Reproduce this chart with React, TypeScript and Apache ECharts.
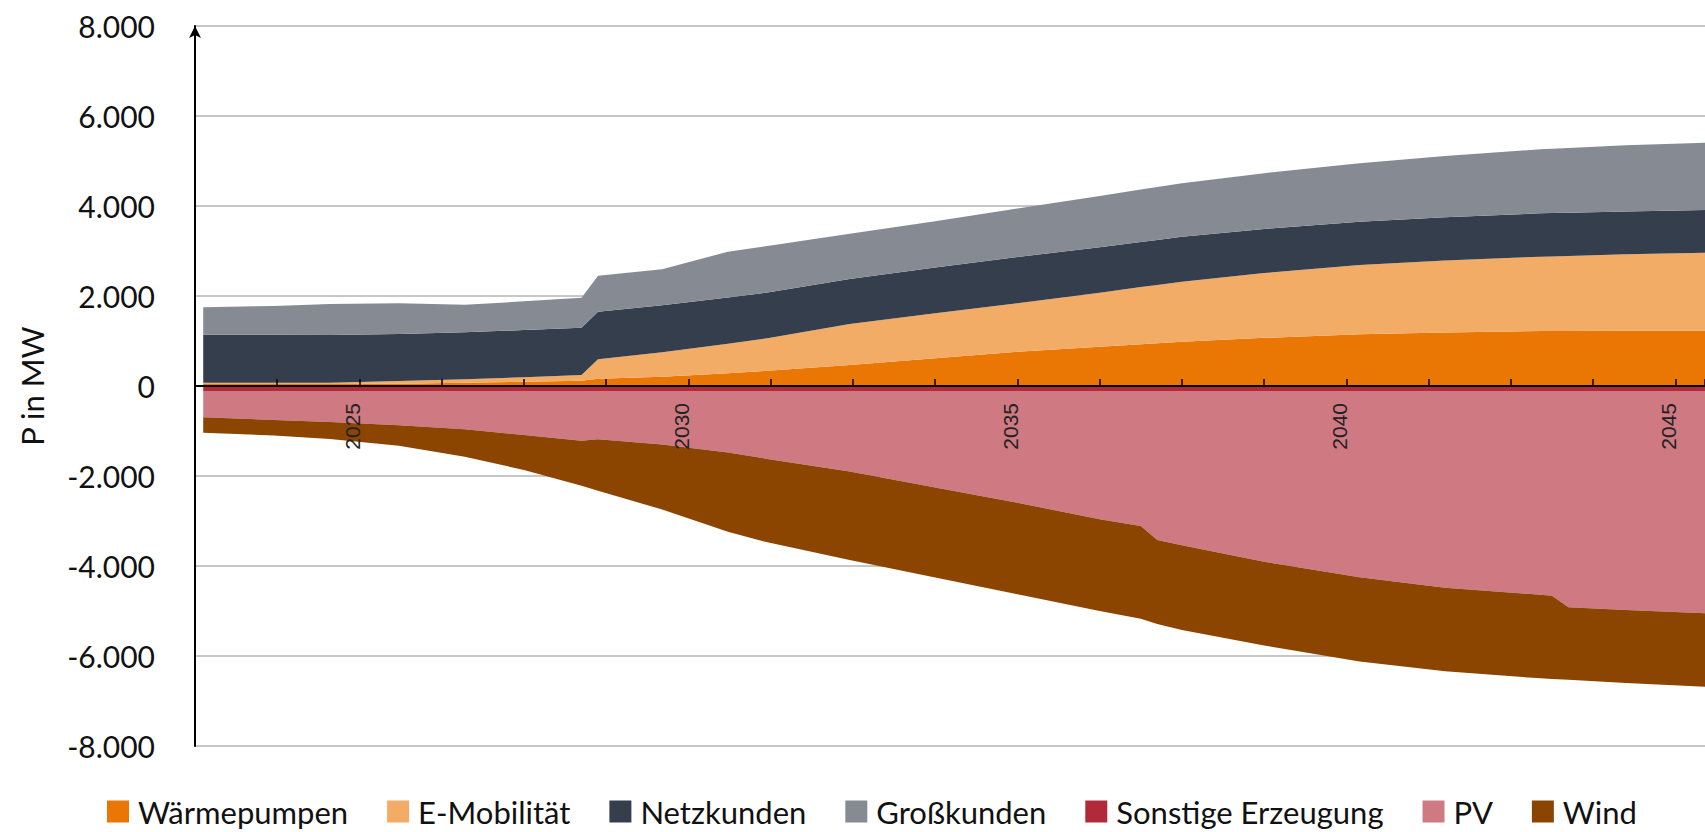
import React, { useEffect, useRef } from 'react';
import * as echarts from 'echarts';

// x positions (decimal years) at which the values were read
const years = [2022.625, 2023.7, 2024.55, 2025.6, 2026.6, 2027.5, 2028.375, 2028.625, 2029.6, 2030.6, 2031.2, 2032.45, 2033.75, 2035.0, 2036.25, 2036.875, 2037.125, 2037.5, 2038.75, 2040.2, 2041.5, 2042.95, 2043.125, 2043.375, 2044.25, 2045.45];

const waermepumpen = [44, 44, 44, 50, 70, 96, 118, 160, 205, 285, 340, 467, 615, 763, 874, 930, 950, 985, 1070, 1148, 1190, 1222, 1223, 1225, 1228, 1230];
const eMobilitaet = [30, 30, 30, 61, 78, 97, 126, 432, 545, 652, 719, 911, 1000, 1074, 1200, 1270, 1295, 1333, 1440, 1541, 1600, 1652, 1657, 1665, 1702, 1733];
const netzkunden = [1066, 1066, 1061, 1044, 1044, 1051, 1052, 1056, 1045, 1030, 1020, 1000, 1020, 1030, 1007, 1000, 1000, 1000, 980, 963, 960, 963, 963, 961, 950, 948];
const grosskunden = [608, 638, 687, 682, 615, 637, 667, 800, 798, 1018, 1031, 1007, 1025, 1078, 1141, 1165, 1175, 1186, 1240, 1296, 1360, 1422, 1427, 1439, 1470, 1496];
const sonstigeErzeugung = [-110, -110, -110, -110, -110, -110, -110, -110, -110, -110, -110, -110, -110, -110, -110, -110, -110, -110, -110, -110, -110, -110, -110, -110, -110, -110];
const pv = [-586, -645, -690, -760, -850, -979, -1105, -1075, -1190, -1370, -1510, -1791, -2147, -2485, -2850, -3001, -3312, -3430, -3796, -4139, -4375, -4530, -4550, -4808, -4865, -4941];
const wind = [-341, -345, -375, -460, -610, -777, -1001, -1145, -1445, -1760, -1854, -1963, -2000, -2030, -2040, -2059, -1868, -1880, -1859, -1875, -1855, -1857, -1850, -1612, -1625, -1631];

const seriesNames = ['Wärmepumpen', 'E-Mobilität', 'Netzkunden', 'Großkunden', 'Sonstige Erzeugung', 'PV', 'Wind'];
const seriesValues = [waermepumpen, eMobilitaet, netzkunden, grosskunden, sonstigeErzeugung, pv, wind];
const seriesColors = ['#EA7704', '#F2AC66', '#343E4C', '#868B93', '#B22A3A', '#CF7A83', '#8B4500'];

const yMin = -8000;
const yMax = 8000;
const yStep = 2000;
const xMin = 2022.5;
const xMax = 2045.45;
const xTickStep = 1.25;
const xLabelStep = 5;

const fmtThousands = (v: number) => {
  const s = Math.abs(v).toString().replace(/\B(?=(\d{3})+(?!\d))/g, '.');
  return (v < 0 ? '-' : '') + s;
};

const FONT = 'Lato, "Open Sans", sans-serif';

const GRID_LEFT = 195;
const GRID_TOP = 26;
const GRID_BOTTOM = 86;
const CHART_H = 832;
const ZERO_Y = GRID_TOP + (CHART_H - GRID_TOP - GRID_BOTTOM) * (yMax / (yMax - yMin));

export default function App() {
  const ref = useRef<HTMLDivElement>(null);

  useEffect(() => {
    if (!ref.current) return;
    const chart = echarts.init(ref.current, undefined, { renderer: 'svg' });
    chart.setOption({
      animation: false,
      backgroundColor: '#ffffff',
      grid: [
        { left: GRID_LEFT, right: 0, top: GRID_TOP, bottom: GRID_BOTTOM, containLabel: false },
        { left: GRID_LEFT, right: 0, top: ZERO_Y, height: 120, containLabel: false },
      ],
      legend: {
        data: seriesNames,
        left: 102,
        top: 791,
        icon: 'rect',
        itemWidth: 22,
        itemHeight: 22,
        itemGap: 39,
        selectedMode: false,
        textStyle: { fontFamily: FONT, fontSize: 31, color: '#111', padding: [0, 0, 0, 4] },
      },
      xAxis: [
        {
          type: 'value',
          gridIndex: 0,
          min: xMin,
          max: xMax,
          interval: xTickStep,
          z: 5,
          axisLine: { show: true, onZero: true, lineStyle: { color: '#000', width: 2 } },
          axisTick: { show: true, inside: true, length: 7, lineStyle: { color: '#000', width: 1.5 } },
          splitLine: { show: false },
          axisLabel: { show: false },
        },
        {
          type: 'value',
          gridIndex: 1,
          position: 'top',
          min: xMin,
          max: xMax,
          interval: xTickStep,
          z: 5,
          axisLine: { show: false },
          axisTick: { show: false },
          splitLine: { show: false },
          axisLabel: {
            show: true,
            inside: true,
            rotate: 90,
            margin: 17,
            fontFamily: '"Liberation Sans", Arial, sans-serif',
            fontSize: 21,
            color: '#222',
            verticalAlign: 'bottom',
            lineHeight: 14,
            showMinLabel: false,
            showMaxLabel: false,
            hideOverlap: false,
            formatter: (v: number) => {
              const r = Math.round(v * 100) / 100;
              return Math.abs(r % xLabelStep) < 1e-6 ? String(Math.round(r)) : '';
            },
          },
        },
      ],
      yAxis: [
        {
          type: 'value',
          gridIndex: 0,
          min: yMin,
          max: yMax,
          interval: yStep,
          name: 'P in MW',
          nameLocation: 'middle',
          nameGap: 148,
          nameRotate: 90,
          nameTextStyle: { fontFamily: FONT, fontSize: 31, color: '#111' },
          axisLine: {
            show: true,
            onZero: false,
            symbol: ['none', 'arrow'],
            symbolSize: [9, 12],
            symbolOffset: [0, 0],
            lineStyle: { color: '#000', width: 2 },
          },
          axisTick: { show: false },
          axisLabel: {
            margin: 40,
            fontFamily: FONT,
            fontSize: 30,
            color: '#111',
            formatter: (v: number) => fmtThousands(v),
          },
          splitLine: { show: true, lineStyle: { color: '#b4b4b4', width: 1.5 } },
        },
        { type: 'value', gridIndex: 1, show: false, min: 0, max: 1 },
      ],
      series: seriesNames.map((name, i) => ({
        name,
        type: 'line',
        xAxisIndex: 0,
        yAxisIndex: 0,
        stack: 'total',
        stackStrategy: 'samesign',
        symbol: 'none',
        showSymbol: false,
        lineStyle: { width: 0 },
        areaStyle: { color: seriesColors[i], opacity: 1 },
        itemStyle: { color: seriesColors[i] },
        // value first so that the y dimension is the stacked one
        dimensions: ['value', 'year'],
        encode: { x: 1, y: 0 },
        data: years.map((y, k) => [seriesValues[i][k], y]),
      })),
    });
    return () => chart.dispose();
  }, []);

  return <div ref={ref} style={{ position: 'absolute', left: 0, top: 0, width: 1705, height: 832 }} />;
}
